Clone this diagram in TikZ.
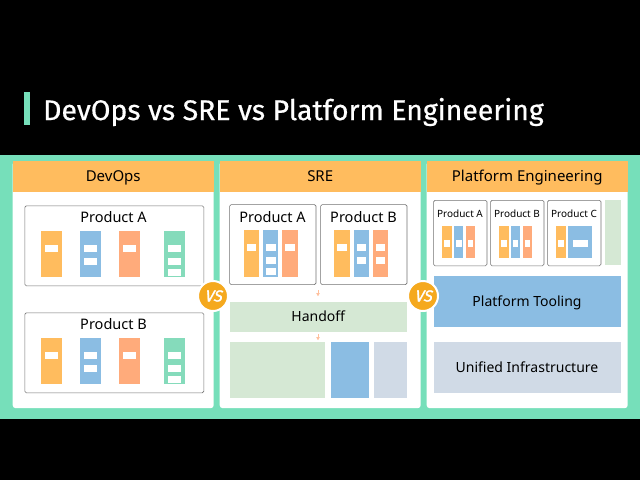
\documentclass[tikz,border=0pt]{standalone}
\usepackage{fontspec}
\setmainfont{Noto Sans}
\newfontfamily\titlefont[FakeBold=0.6]{Fira Sans}
\newfontfamily\vsfont[FakeBold=1.5,FakeSlant=0.25]{Fira Sans}
\usetikzlibrary{calc,arrows.meta,positioning}
\definecolor{mint}{HTML}{76DFBA}
\definecolor{amber}{HTML}{FFBC5E}
\definecolor{gold}{HTML}{F5A91E}
\definecolor{sky}{HTML}{8BBDE3}
\definecolor{peach}{HTML}{FFAB7B}
\definecolor{leaf}{HTML}{85DBBB}
\definecolor{pale}{HTML}{D5E8D4}
\definecolor{slate}{HTML}{D0DAE6}
\tikzset{
  card/.style={fill=white, rounded corners=3pt, anchor=north west, minimum width=201pt, minimum height=247pt, inner sep=0pt},
  head/.style={fill=amber, anchor=north west, minimum width=201pt, minimum height=31pt, inner sep=0pt, text height=12pt, text depth=2pt, font=\fontsize{15}{17}\selectfont, text=black},
  prod/.style={draw=black!55, line width=0.6pt, rounded corners=1.5pt, anchor=north west, inner sep=0pt},
  label/.style={font=\fontsize{14.5}{16}\selectfont, text=black, inner sep=0pt, text height=12pt, text depth=2pt},
  smalllabel/.style={font=\fontsize{10}{11}\selectfont, text=black, inner sep=0pt, text height=8.5pt, text depth=1.5pt},
  bar/.style={anchor=north west, minimum width=21pt, minimum height=46pt, inner sep=0pt},
  slot/.style={fill=white, anchor=north west, minimum width=13pt, minimum height=7pt, inner sep=0pt},
  block/.style={anchor=north west, inner sep=0pt, text height=12pt, text depth=2pt, font=\fontsize{14}{16}\selectfont, text=black},
  badge/.style={circle, fill=gold, draw=white, line width=2pt, minimum size=30pt, inner sep=0pt, text=white, font=\vsfont\fontsize{16}{16}\selectfont},
  flow/.style={-{Latex[length=3.5pt,width=4pt]}, peach!75, line width=0.9pt}
}
\begin{document}
\begin{tikzpicture}[x=1pt,y=-1pt]
  \useasboundingbox (0,0) rectangle (640,480);
  \fill[black] (0,0) rectangle (640,480);
  \fill[mint] (0,155) rectangle (640,419);
  % title
  \fill[mint] (24,92) rectangle (30,125);
  \node[anchor=west, text=white, inner sep=0pt, font=\titlefont\fontsize{28.4}{32}\selectfont] (title) at (43,112) {DevOps vs SRE vs Platform Engineering};
  % cards
  \foreach \name/\xx/\txt in {dev/12.5/DevOps, sre/219.5/SRE, plat/426.5/Platform Engineering}{
    \node[card] (\name) at (\xx,161) {};
    \node[head] (\name head) at (\xx,161) {\txt};
  }
  % devops
  \foreach \name/\yy/\txt in {a/0/Product A, b/107/Product B}{
    \node[prod, minimum width=179pt, minimum height=80pt] (dev\name) at (24.5,205.5+\yy) {};
    \node[label] (dev\name text) at (113.5,217+\yy) {\txt};
    \node[bar, fill=amber] (dev\name1) at (41,231+\yy) {};
    \node[bar, fill=sky] (dev\name2) at (80,231+\yy) {};
    \node[bar, fill=peach] (dev\name3) at (119,231+\yy) {};
    \node[bar, fill=leaf] (dev\name4) at (164,231+\yy) {};
    \node[slot] (dev\name s1) at (45,245+\yy) {};
    \node[slot] (dev\name s2) at (84,245+\yy) {};
    \node[slot] (dev\name s3) at (84,258+\yy) {};
    \node[slot] (dev\name s4) at (123,245+\yy) {};
    \node[slot] (dev\name s5) at (168,245+\yy) {};
    \node[slot] (dev\name s6) at (168,258+\yy) {};
    \node[slot] (dev\name s7) at (168,268.5+\yy) {};
  }
  % sre
  \node[prod, minimum width=86.4pt, minimum height=80pt] (srea) at (229.3,204.3) {};
  \node[prod, minimum width=86.4pt, minimum height=80pt] (sreb) at (320.3,204.3) {};
  \node[label] (srea text) at (272.5,217.3) {Product A};
  \node[label] (sreb text) at (363.5,217.3) {Product B};
  \foreach \name/\xx/\col in {a1/243.3/amber, a2/262.7/sky, a3/282/peach, b1/334/amber, b2/353.3/sky, b3/372.7/peach}{
    \node[bar, fill=\col, minimum width=15.5pt, minimum height=46.5pt] (sre\name) at (\xx,230) {};
  }
  \foreach \name/\xx/\yy in {s1/246.3/244, s2/266/244, s3/266/256.7, s4/266/268, s5/285/244, s6/337/244, s7/356.3/244, s8/356.3/257, s9/375.3/244, s10/375.3/257}{
    \node[slot, minimum width=9.4pt] (sre\name) at (\xx,\yy) {};
  }
  \coordinate (up) at (318,290);
  \node[block, fill=pale, minimum width=177.4pt, minimum height=30pt] (handoff) at (229.3,301.7) {Handoff};
  \coordinate (upend) at (318,296.5);
  \coordinate (down) at (318,334);
  \coordinate (downend) at (318,340.5);
  \draw[flow] (up) -- (upend);
  \draw[flow] (down) -- (downend);
  \node[block, fill=pale, minimum width=95.4pt, minimum height=56pt] (srepale) at (229.3,342) {};
  \node[block, fill=sky, minimum width=37.3pt, minimum height=56pt] (sresky) at (331,342) {};
  \node[block, fill=slate, minimum width=32.3pt, minimum height=56pt] (sreslate) at (374,342) {};
  % platform
  \foreach \name/\xx/\txt in {a/433.3/Product A, b/490.3/Product B, c/547.3/Product C}{
    \node[prod, minimum width=53.4pt, minimum height=65.5pt] (plat\name) at (\xx,200) {};
    \node[smalllabel] (plat\name text) at ($(\xx,214.3)+(26.7,0)$) {\txt};
  }
  \foreach \name/\xx/\col in {a1/442/amber, a2/453.7/sky, a3/465.7/peach, b1/499/amber, b2/510.7/sky, b3/522.7/peach, c1/556/amber}{
    \node[bar, fill=\col, minimum width=9.4pt, minimum height=31.3pt] (plat\name) at (\xx,226) {};
  }
  \node[bar, fill=sky, minimum width=24pt, minimum height=31.3pt] (platc2) at (568,226) {};
  \foreach \name/\xx in {s1/444, s2/456, s3/467.7, s4/501, s5/512.7, s6/524.7, s7/558}{
    \node[slot, minimum width=5.4pt, minimum height=6.7pt] (plat\name) at (\xx,240) {};
  }
  \node[slot, minimum width=14.3pt, minimum height=6.7pt] (plats8) at (573,240) {};
  \node[block, fill=pale, minimum width=16pt, minimum height=65pt] (platpale) at (604.3,200) {};
  \node[block, fill=sky, minimum width=187pt, minimum height=51pt] (tooling) at (433.3,275.7) {Platform Tooling};
  \node[block, fill=slate, minimum width=187pt, minimum height=51pt] (infra) at (433.3,342) {Unified Infrastructure};
  % badges
  \node[badge] (vsa) at (213,296) {VS};
  \node[badge] (vsb) at (423,296) {VS};
\end{tikzpicture}
\end{document}
